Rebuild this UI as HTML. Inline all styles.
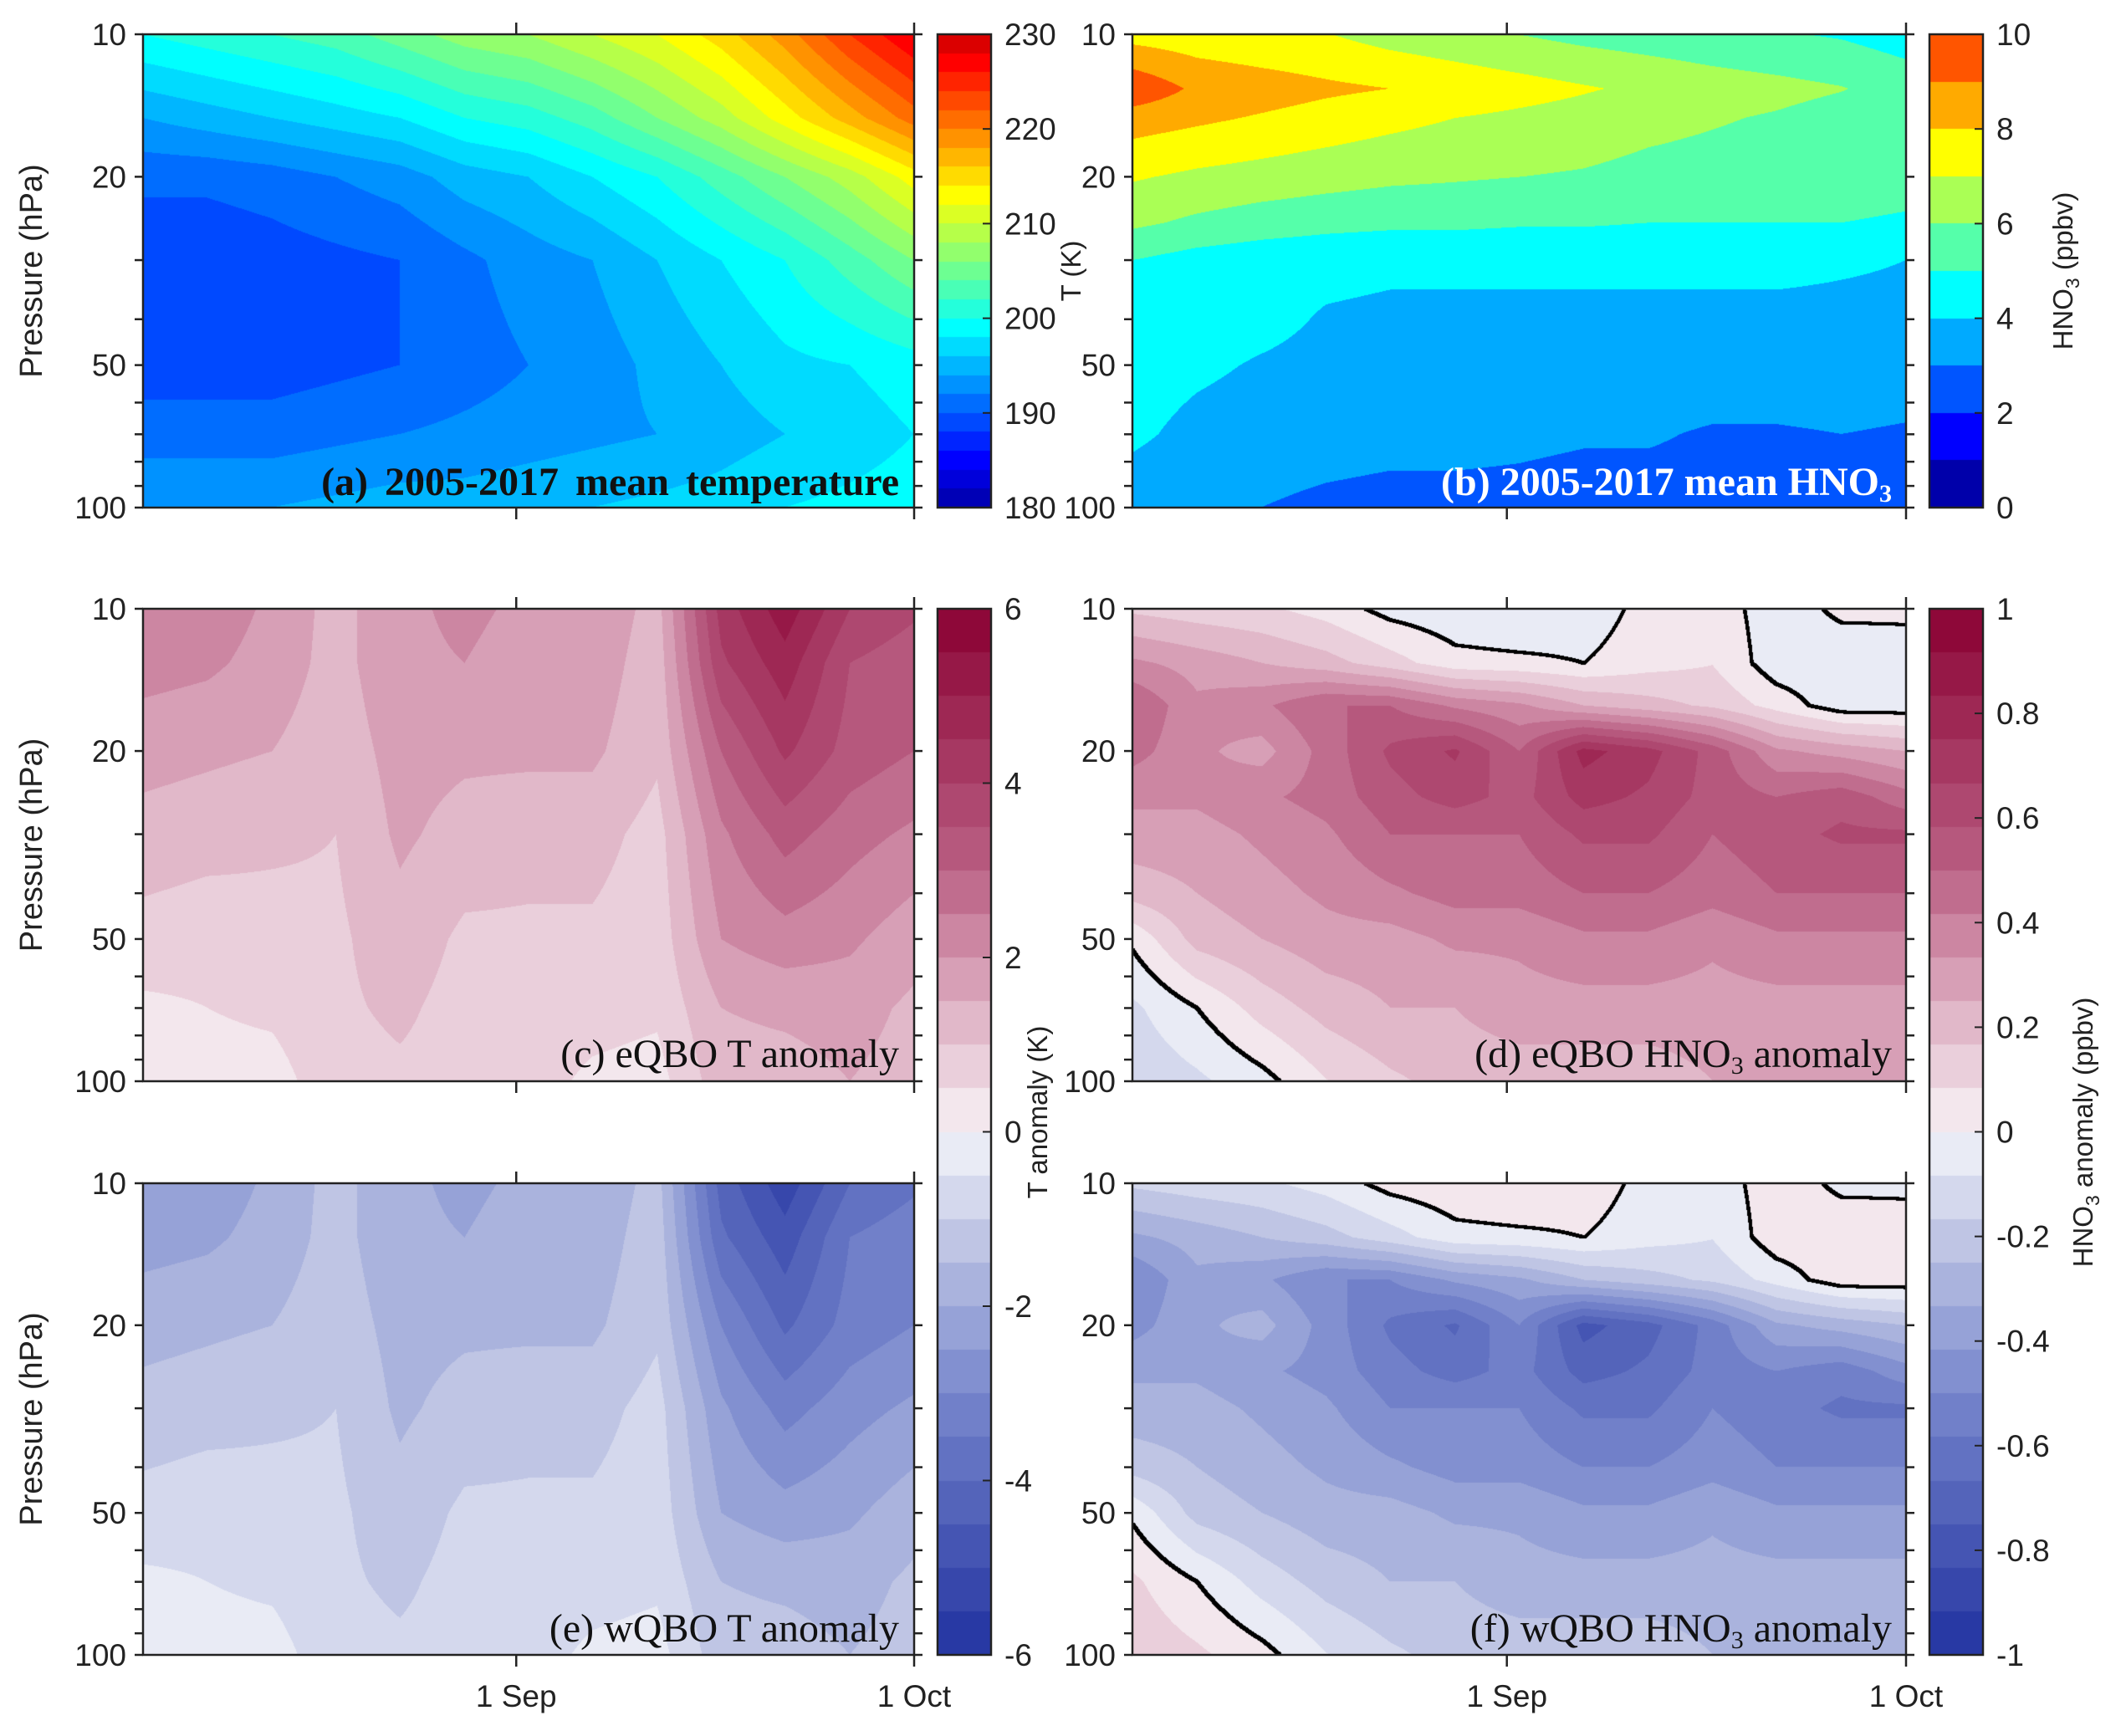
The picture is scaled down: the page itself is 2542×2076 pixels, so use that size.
<!DOCTYPE html>
<html><head><meta charset="utf-8">
<style>
html,body{margin:0;padding:0;background:#fff;}
#wrap{position:relative;width:2542px;height:2076px;overflow:hidden;background:#fff;}
canvas{position:absolute;}
svg{position:absolute;left:0;top:0;}
</style></head>
<body>
<div id="wrap">
<canvas id="ca"></canvas>
<canvas id="cb"></canvas>
<canvas id="cc"></canvas>
<canvas id="cd"></canvas>
<canvas id="ce"></canvas>
<canvas id="cf"></canvas>
<canvas id="cbarA"></canvas>
<canvas id="cbarB"></canvas>
<canvas id="cbarT"></canvas>
<canvas id="cbarH"></canvas>
<svg id="ov" width="2542" height="2076" xmlns="http://www.w3.org/2000/svg"></svg>
</div>
<script>
// ---- data (x as fraction of time axis; 1 Sep at 0.484, 1 Oct at 1) ----
const xCols = [0,0.083,0.167,0.25,0.333,0.417,0.5,0.583,0.667,0.75,0.833,0.917,1];
const pA = [10,15,20,30,50,70,100];
const tempMean = [
 [200,201,202,203,205,207,208,210,212,215,219,224,228],
 [194,195,196,197,198,200,201,203,206,209,213,217,221],
 [190.5,190.5,191,192,193,195,196,198,200,203,206,209,213],
 [188.5,188.5,189,189.5,190,191.5,193,194,196,198,200,203,206],
 [189,189,189,189.5,190,191,192,193,194.5,196,197.5,198,199],
 [191,191,191,191.5,192,192.5,193,193.5,194,195,196,197,198],
 [194,194,194,194.5,195,195,195.5,196,196.5,197,198,198.5,199]];
const pB = [10,13,15,20,25,30,40,50,70,100];
const hno3Mean = [
 [7.6,7.4,7.2,7.05,6.6,6.3,6.0,5.7,5.5,5.3,5.1,4.9,4.5],
 [9.8,8.8,8.5,8.2,8.0,7.7,7.4,7.1,6.8,6.5,6.3,6.05,5.6],
 [8.5,8.2,7.9,7.6,7.3,7.0,6.8,6.6,6.3,6.1,5.9,5.6,5.4],
 [7.1,6.8,6.6,6.4,6.2,6.1,6.0,5.9,5.7,5.6,5.5,5.4,5.3],
 [6.2,5.8,5.5,5.3,5.2,5.2,5.1,5.1,5.0,5.0,5.0,5.0,4.9],
 [5.0,4.6,4.4,4.3,4.2,4.2,4.2,4.2,4.2,4.2,4.2,4.1,4.0],
 [4.7,4.5,4.3,3.9,3.8,3.8,3.8,3.8,3.8,3.8,3.8,3.8,3.8],
 [4.5,4.2,3.9,3.7,3.6,3.6,3.6,3.6,3.6,3.6,3.6,3.6,3.5],
 [4.2,3.7,3.5,3.4,3.3,3.3,3.2,3.1,3.1,2.9,2.9,3.0,2.9],
 [3.4,3.2,3.0,2.8,2.7,2.7,2.7,2.6,2.6,2.6,2.6,2.6,2.6]];
const pT = [10,13,20,30,50,70,100];
const tAnomE = [
 [2.2,2.3,1.9,1.3,1.9,2.1,1.9,1.9,1.3,4.2,5.3,4.0,3.6],
 [2.2,2.1,1.8,1.3,1.9,2.0,1.8,1.8,1.2,3.9,4.8,3.5,3.2],
 [1.7,1.6,1.5,1.2,1.7,1.6,1.6,1.6,1.1,3.0,4.1,3.3,3.0],
 [1.3,1.2,1.1,1.0,1.6,1.3,1.2,1.2,0.8,2.4,3.2,2.7,2.4],
 [0.8,0.7,0.8,0.9,1.3,0.9,0.9,0.9,0.7,2.0,2.3,2.1,1.7],
 [0.4,0.5,0.6,0.9,1.1,0.8,0.8,0.7,0.6,1.5,1.6,1.7,1.4],
 [0.3,0.3,0.3,0.8,0.9,0.8,0.7,0.4,0.3,1.3,1.3,1.5,1.3]];
const tAnomW = [
 [-2.2,-2.3,-1.9,-1.3,-1.9,-2.1,-1.9,-1.9,-1.3,-4.2,-5.3,-4.0,-3.6],
 [-2.2,-2.1,-1.8,-1.3,-1.9,-2.0,-1.8,-1.8,-1.2,-3.9,-4.8,-3.5,-3.2],
 [-1.7,-1.6,-1.5,-1.2,-1.7,-1.6,-1.6,-1.6,-1.1,-3.0,-4.1,-3.3,-3.0],
 [-1.3,-1.2,-1.1,-1.0,-1.6,-1.3,-1.2,-1.2,-0.8,-2.4,-3.2,-2.7,-2.4],
 [-0.8,-0.7,-0.8,-0.9,-1.3,-0.9,-0.9,-0.9,-0.7,-2.0,-2.3,-2.1,-1.7],
 [-0.4,-0.5,-0.6,-0.9,-1.1,-0.8,-0.8,-0.7,-0.6,-1.5,-1.6,-1.7,-1.4],
 [-0.3,-0.3,-0.3,-0.8,-0.9,-0.8,-0.7,-0.4,-0.3,-1.3,-1.3,-1.5,-1.3]];
const pH = [10,13,16,20,25,30,40,50,70,100];
const hAnomE = [
 [0.15,0.12,0.10,0.05,-0.03,-0.06,-0.08,-0.05,0.03,0.05,-0.05,0.02,0.02],
 [0.35,0.30,0.25,0.20,0.12,0.03,0.02,0.00,0.05,0.08,-0.05,-0.06,-0.05],
 [0.50,0.35,0.40,0.50,0.50,0.40,0.35,0.25,0.20,0.15,0.05,-0.05,-0.05],
 [0.45,0.35,0.30,0.45,0.60,0.68,0.50,0.78,0.70,0.55,0.35,0.30,0.25],
 [0.35,0.35,0.40,0.45,0.55,0.62,0.55,0.70,0.65,0.55,0.50,0.55,0.45],
 [0.30,0.30,0.35,0.40,0.50,0.50,0.50,0.60,0.60,0.50,0.55,0.60,0.60],
 [0.20,0.25,0.30,0.35,0.40,0.45,0.45,0.50,0.50,0.45,0.50,0.50,0.50],
 [0.02,0.20,0.25,0.30,0.30,0.35,0.35,0.40,0.40,0.35,0.40,0.40,0.40],
 [-0.10,0.00,0.12,0.20,0.25,0.25,0.30,0.30,0.30,0.30,0.30,0.30,0.30],
 [-0.15,-0.10,-0.03,0.08,0.15,0.20,0.20,0.20,0.20,0.25,0.25,0.25,0.25]];
const hAnomW = [
 [-0.15,-0.12,-0.10,-0.05,0.03,0.06,0.08,0.05,-0.03,-0.05,0.05,-0.02,-0.02],
 [-0.35,-0.30,-0.25,-0.20,-0.12,-0.03,-0.02,0.00,-0.05,-0.08,0.05,0.06,0.05],
 [-0.50,-0.35,-0.40,-0.50,-0.50,-0.40,-0.35,-0.25,-0.20,-0.15,-0.05,0.05,0.05],
 [-0.45,-0.35,-0.30,-0.45,-0.60,-0.68,-0.50,-0.78,-0.70,-0.55,-0.35,-0.30,-0.25],
 [-0.35,-0.35,-0.40,-0.45,-0.55,-0.62,-0.55,-0.70,-0.65,-0.55,-0.50,-0.55,-0.45],
 [-0.30,-0.30,-0.35,-0.40,-0.50,-0.50,-0.50,-0.60,-0.60,-0.50,-0.55,-0.60,-0.60],
 [-0.20,-0.25,-0.30,-0.35,-0.40,-0.45,-0.45,-0.50,-0.50,-0.45,-0.50,-0.50,-0.50],
 [-0.02,-0.20,-0.25,-0.30,-0.30,-0.35,-0.35,-0.40,-0.40,-0.35,-0.40,-0.40,-0.40],
 [0.10,0.00,-0.12,-0.20,-0.25,-0.25,-0.30,-0.30,-0.30,-0.30,-0.30,-0.30,-0.30],
 [0.15,0.10,0.03,-0.08,-0.15,-0.20,-0.20,-0.20,-0.20,-0.25,-0.25,-0.25,-0.25]];
const yTicks = [10,20,30,40,50,60,70,80,90,100];
const yTickLabels = ['10','20','50','100'];
const xTickFrac = [0.484,1];
const xTickLabels = ['1 Sep','1 Oct'];
const cbA = ['230','220','210','200','190','180'];
const cbB = ['10','8','6','4','2','0'];
const cbT = ['6','4','2','0','-2','-4','-6'];
const cbH = ['1','0.8','0.6','0.4','0.2','0','-0.2','-0.4','-0.6','-0.8','-1'];

// ---- colormaps ----
function mjet(m){
  const n=Math.ceil(m/4), u=[];
  for(let i=1;i<=n;i++)u.push(i/n);
  for(let i=1;i<n;i++)u.push(1);
  for(let i=n;i>=1;i--)u.push(i/n);
  const g0=Math.ceil(n/2)-(m%4==1?1:0);
  const c=[];for(let i=0;i<m;i++)c.push([0,0,0]);
  for(let k=0;k<u.length;k++){
    const g=g0+k+1, r=g+n, b=g-n;
    if(g>=1&&g<=m)c[g-1][1]=u[k];
    if(r>=1&&r<=m)c[r-1][0]=u[k];
    if(b>=1&&b<=m)c[b-1][2]=u[k];
  }
  return c.map(a=>a.map(v=>Math.round(v*255)));
}
const stops=[[-1,[33,50,160]],[-0.5,[120,135,205]],[-0.25,[180,188,224]],[-0.04,[233,235,245]],[0.04,[243,231,237]],[0.25,[221,172,192]],[0.5,[186,96,132]],[1,[138,0,50]]];
function div(t){
  for(let i=0;i<stops.length-1;i++){
    const [a,ca]=stops[i],[b,cb]=stops[i+1];
    if(t<=b){const f=(t-a)/(b-a);return ca.map((v,j)=>Math.round(v+(cb[j]-v)*f));}
  }
  return stops[stops.length-1][1];
}
const divMap=[];for(let i=0;i<24;i++)divMap.push(div(-1+(i+0.5)/12));
const jet25=mjet(25), jet10=mjet(10);

function interp(xs,ps,grid,xf,p){
  let ci=0;while(ci<xs.length-2&&xf>xs[ci+1])ci++;
  const fx=Math.max(0,Math.min(1,(xf-xs[ci])/(xs[ci+1]-xs[ci])));
  const lp=Math.log10(p);
  let ri=0;while(ri<ps.length-2&&lp>Math.log10(ps[ri+1]))ri++;
  const l0=Math.log10(ps[ri]),l1=Math.log10(ps[ri+1]);
  const fy=Math.max(0,Math.min(1,(lp-l0)/(l1-l0)));
  const a=grid[ri][ci]*(1-fx)+grid[ri][ci+1]*fx;
  const b=grid[ri+1][ci]*(1-fx)+grid[ri+1][ci+1]*fx;
  return a*(1-fy)+b*fy;
}
function drawField(id,x,y,w,h,ps,grid,vmin,vmax,cmap,zeroLine){
  const cv=document.getElementById(id);
  cv.width=w;cv.height=h;cv.style.left=x+'px';cv.style.top=y+'px';
  const ctx=cv.getContext('2d');const img=ctx.createImageData(w,h);
  const n=cmap.length;const vals=new Float32Array(w*h);
  for(let py=0;py<h;py++){
    const p=Math.pow(10,1+py/(h-1));
    for(let px=0;px<w;px++){
      const v=interp(xCols,ps,grid,px/(w-1),p);vals[py*w+px]=v;
      let i=Math.floor((v-vmin)/(vmax-vmin)*n);i=Math.max(0,Math.min(n-1,i));
      const c=cmap[i],o=(py*w+px)*4;
      img.data[o]=c[0];img.data[o+1]=c[1];img.data[o+2]=c[2];img.data[o+3]=255;
    }
  }
  if(zeroLine){
    for(let py=0;py<h-2;py++)for(let px=0;px<w-2;px++){
      const v=vals[py*w+px];
      if((v>0)!=(vals[py*w+px+2]>0)||(v>0)!=(vals[(py+2)*w+px]>0)){
        for(let dy=0;dy<3;dy++)for(let dx=0;dx<3;dx++){
          const o=((py+dy)*w+px+dx)*4;img.data[o]=0;img.data[o+1]=0;img.data[o+2]=0;
        }
      }
    }
  }
  ctx.putImageData(img,0,0);
}
function drawBar(id,x,y,w,h,cmap){
  const cv=document.getElementById(id);
  cv.width=w;cv.height=h;cv.style.left=x+'px';cv.style.top=y+'px';
  const ctx=cv.getContext('2d');const n=cmap.length;
  for(let i=0;i<n;i++){
    const c=cmap[n-1-i];ctx.fillStyle='rgb('+c.join(',')+')';
    ctx.fillRect(0,Math.round(i*h/n),w,Math.ceil(h/n)+1);
  }
}
const L={x:171,w:922}, R={x:1354,w:925};
const rows=[{y:41,h:566},{y:728,h:565},{y:1415,h:564}];
drawField('ca',L.x,rows[0].y,L.w,rows[0].h,pA,tempMean,180,230,jet25,false);
drawField('cb',R.x,rows[0].y,R.w,rows[0].h,pB,hno3Mean,0,10,jet10,false);
drawField('cc',L.x,rows[1].y,L.w,rows[1].h,pT,tAnomE,-6,6,divMap,false);
drawField('cd',R.x,rows[1].y,R.w,rows[1].h,pH,hAnomE,-1,1,divMap,true);
drawField('ce',L.x,rows[2].y,L.w,rows[2].h,pT,tAnomW,-6,6,divMap,false);
drawField('cf',R.x,rows[2].y,R.w,rows[2].h,pH,hAnomW,-1,1,divMap,true);
drawBar('cbarA',1121,41,64,566,jet25);
drawBar('cbarB',2307,41,64,566,jet10);
drawBar('cbarT',1121,728,64,1251,divMap);
drawBar('cbarH',2307,728,64,1251,divMap);

// ---- overlay axes ----
const NS='http://www.w3.org/2000/svg';const ov=document.getElementById('ov');
function mk(tag,attrs,txt){const e=document.createElementNS(NS,tag);for(const k in attrs)e.setAttribute(k,attrs[k]);if(txt!==undefined)e.textContent=txt;ov.appendChild(e);return e;}
const sans='"Liberation Sans", Arial, sans-serif';
function yPos(r,p){return r.y+Math.log10(p/10)*r.h;}
function axes(col,r,name,showX){
  const g=mk('rect',{x:col.x,y:r.y,width:col.w,height:r.h,fill:'none',stroke:'#222','stroke-width':2.5});
  
  
  yTicks.forEach(p=>{
    const y=yPos(r,p);
    const t1=mk('line',{x1:col.x-10,x2:col.x,y1:y,y2:y,stroke:'#222','stroke-width':2.5});
    
    
    const t2=mk('line',{x1:col.x+col.w,x2:col.x+col.w+10,y1:y,y2:y,stroke:'#222','stroke-width':2.5});
    
    
  });
  yTickLabels.forEach(s=>{
    const t=mk('text',{x:col.x-20,y:yPos(r,+s)+13,'text-anchor':'end','font-family':sans,'font-size':37,fill:'#222'},s);
    
    
  });
  xTickFrac.forEach((f,i)=>{
    const x=col.x+f*col.w;
    const a=mk('line',{x1:x,x2:x,y1:r.y-14,y2:r.y,stroke:'#222','stroke-width':2.5});
    
    
    const b=mk('line',{x1:x,x2:x,y1:r.y+r.h,y2:r.y+r.h+14,stroke:'#222','stroke-width':2.5});
    
    
    if(showX){
      const t=mk('text',{x:x,y:r.y+r.h+62,'text-anchor':'middle','font-family':sans,'font-size':37,fill:'#222'},xTickLabels[i]);
      
      
    }
  });
}
axes(L,rows[0],'panel-a',false);axes(R,rows[0],'panel-b',false);
axes(L,rows[1],'panel-c',false);axes(R,rows[1],'panel-d',false);
axes(L,rows[2],'panel-e',true);axes(R,rows[2],'panel-f',true);
[0,1,2].forEach(i=>{
  const cy=rows[i].y+rows[i].h/2;
  const t=mk('text',{x:0,y:0,transform:'translate(50,'+cy+') rotate(-90)','text-anchor':'middle','font-family':sans,'font-size':38,fill:'#222'},'Pressure (hPa)');
  
  
});
function cbar(x,y,h,labels,name){
  const f=mk('rect',{x:x,y:y,width:64,height:h,fill:'none',stroke:'#222','stroke-width':2.5});
  
  
  labels.forEach((s,i)=>{
    const yy=y+i*h/(labels.length-1);
    const tk=mk('line',{x1:x+54,x2:x+64,y1:yy,y2:yy,stroke:'#222','stroke-width':2});
    
    
    const t=mk('text',{x:x+80,y:yy+13,'font-family':sans,'font-size':37,fill:'#222'},s);
    
    
  });
}
cbar(1121,41,566,cbA,'colorbar-temperature');
cbar(2307,41,566,cbB,'colorbar-hno3');
cbar(1121,728,1251,cbT,'colorbar-t-anomaly');
cbar(2307,728,1251,cbH,'colorbar-hno3-anomaly');
</script>
<svg width="2542" height="2076" xmlns="http://www.w3.org/2000/svg" style="position:absolute;left:0;top:0">
<g font-family="Liberation Sans, Arial, sans-serif" font-size="33" fill="#222">
<text transform="translate(1292,324) rotate(-90)" text-anchor="middle">T (K)</text>
<text transform="translate(2478,324) rotate(-90)" text-anchor="middle">HNO<tspan font-size="23" dy="8">3</tspan><tspan dy="-8"> (ppbv)</tspan></text>
<text transform="translate(1252,1330) rotate(-90)" text-anchor="middle">T anomaly (K)</text>
<text transform="translate(2502,1354) rotate(-90)" text-anchor="middle">HNO<tspan font-size="23" dy="8">3</tspan><tspan dy="-8"> anomaly (ppbv)</tspan></text>
</g>
<g font-family="Liberation Serif, Times New Roman, serif" font-size="48">
<text x="1075" y="592" text-anchor="end" font-weight="bold" fill="#111" word-spacing="8">(a) 2005-2017 mean temperature</text>
<text x="2262" y="592" text-anchor="end" font-weight="bold" fill="#fff">(b) 2005-2017 mean HNO<tspan font-size="30" dy="8">3</tspan></text>
<text x="1075" y="1276" text-anchor="end" fill="#111">(c) eQBO T anomaly</text>
<text x="2262" y="1276" text-anchor="end" fill="#111">(d) eQBO HNO<tspan font-size="30" dy="8">3</tspan><tspan dy="-8"> anomaly</tspan></text>
<text x="1075" y="1963" text-anchor="end" fill="#111">(e) wQBO T anomaly</text>
<text x="2262" y="1963" text-anchor="end" fill="#111">(f) wQBO HNO<tspan font-size="30" dy="8">3</tspan><tspan dy="-8"> anomaly</tspan></text>
</g>
</svg>
</body></html>
